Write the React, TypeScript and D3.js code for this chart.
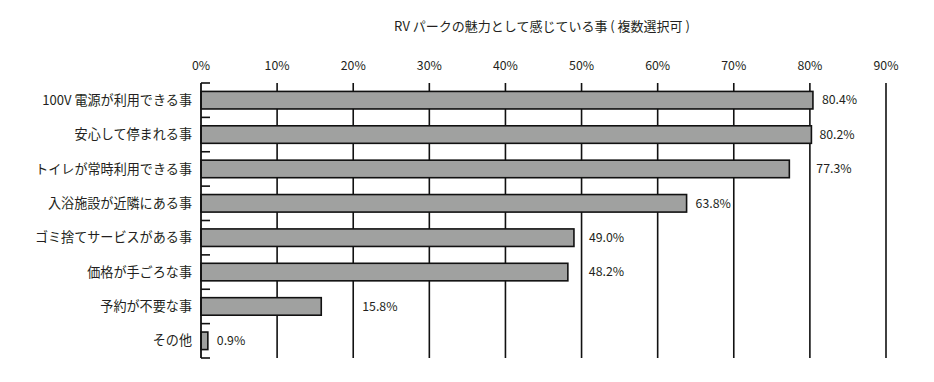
import React from "react";
import * as d3 from "d3";

const categories = [
  "100V 電源が利用できる事",
  "安心して停まれる事",
  "トイレが常時利用できる事",
  "入浴施設が近隣にある事",
  "ゴミ捨てサービスがある事",
  "価格が手ごろな事",
  "予約が不要な事",
  "その他",
];
const values = [80.4, 80.2, 77.3, 63.8, 49.0, 48.2, 15.8, 0.9];
const tickValues = [0, 10, 20, 30, 40, 50, 60, 70, 80, 90];
const title = "RV パークの魅力として感じている事 ( 複数選択可 )";

// label offsets (px) from bar end, styling only
const labelOffsets = [9, 8, 27, 9, 15, 21, 41, 9];

const W = 934;
const H = 382;
const left = 201;
const right = 886;
const top = 83;
const bottom = 358;
const font = "'Noto Sans CJK JP', 'Noto Sans', sans-serif";
const textColor = "#231f20";

export default function App() {
  const x = d3.scaleLinear().domain([0, 90]).range([left, right]);
  const y = d3
    .scaleBand<string>()
    .domain(categories)
    .range([top, bottom])
    .paddingInner(0.49)
    .paddingOuter(0.245);
  const step = (bottom - top) / categories.length;
  const boundaries = d3.range(categories.length + 1).map((i) => top + i * step);

  return (
    <svg
      width={W}
      height={H}
      style={{ position: "absolute", left: 0, top: 0, background: "#fff" }}
    >
      <text
        x={542}
        y={31}
        textAnchor="middle"
        fontFamily={font}
        fontSize={13}
        fill={textColor}
      >
        {title}
      </text>
      {tickValues.map((t) => (
        <text
          key={"t" + t}
          x={x(t)}
          y={70}
          textAnchor="middle"
          fontFamily={font}
          fontSize={12.3}
          fill={textColor}
        >
          {t}%
        </text>
      ))}
      {tickValues.slice(1).map((t) => (
        <line
          key={"g" + t}
          x1={x(t)}
          x2={x(t)}
          y1={top}
          y2={bottom}
          stroke="#111"
          strokeWidth={1.6}
        />
      ))}
      {boundaries.map((b, i) => (
        <line
          key={"b" + i}
          x1={left}
          x2={left + 9}
          y1={b}
          y2={b}
          stroke="#111"
          strokeWidth={1.6}
        />
      ))}
      {categories.map((c, i) => (
        <g key={c}>
          <rect
            x={x(0)}
            y={y(c)}
            width={x(values[i]) - x(0)}
            height={y.bandwidth()}
            fill="#a0a1a0"
            stroke="#111"
            strokeWidth={1.6}
          />
          <text
            x={left - 9}
            y={(y(c) as number) + y.bandwidth() / 2}
            dy="0.35em"
            textAnchor="end"
            fontFamily={font}
            fontSize={13.1}
            fill={textColor}
          >
            {c}
          </text>
          <text
            x={x(values[i]) + labelOffsets[i]}
            y={(y(c) as number) + y.bandwidth() / 2}
            dy="0.35em"
            textAnchor="start"
            fontFamily={font}
            fontSize={12.3}
            fill={textColor}
          >
            {values[i].toFixed(1)}%
          </text>
        </g>
      ))}
      <line
        x1={left}
        x2={left}
        y1={top}
        y2={bottom}
        stroke="#111"
        strokeWidth={1.8}
      />
    </svg>
  );
}
